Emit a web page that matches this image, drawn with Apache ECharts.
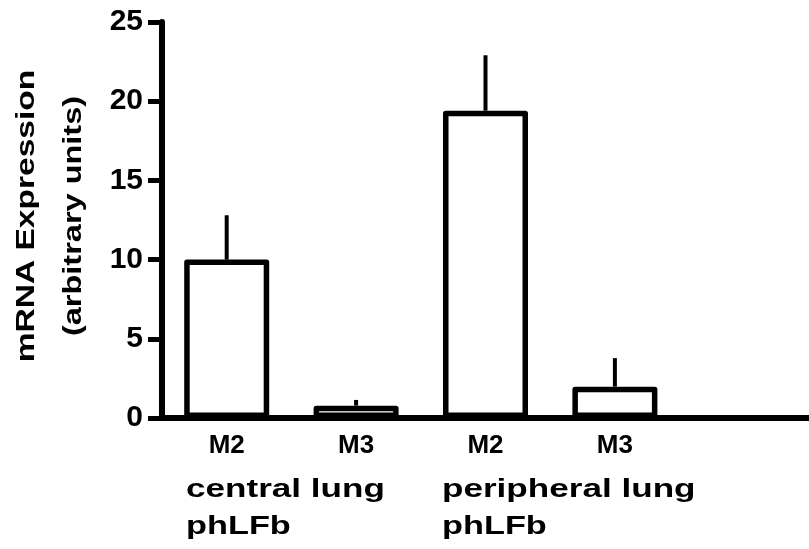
<!DOCTYPE html>
<html>
<head>
<meta charset="utf-8">
<script src="https://cdn.jsdelivr.net/npm/echarts@6/dist/echarts.min.js"></script>
<style>
  html, body { margin: 0; padding: 0; background: #ffffff; }
  #chart { width: 809px; height: 549px; }
</style>
</head>
<body>
<div id="chart"></div>
<script>
// Bar categories (the last slot is left empty so the baseline runs on to the right)
const categories = ['M2', 'M3', 'M2', 'M3', ''];
// Mean expression per bar and its standard error (upper whisker only)
const meanValues = [10.0, 0.78, 19.4, 1.98];
const semValues = [2.8, 0.36, 3.5, 1.8];
// Value axis range and step
const yMin = 0;
const yMax = 25;
const yStep = 5;
// Group captions under the bar pairs
const groupNames = ['central lung', 'peripheral lung'];
const groupSubtitle = 'phLFb';
// Value axis title, two lines
const yTitleLines = ['mRNA Expression', '(arbitrary units)'];

const FONT = '"Liberation Sans", Arial, Helvetica, sans-serif';
const chart = echarts.init(document.getElementById('chart'), null, { renderer: 'canvas' });

// Whisker segments: [category index, mean, mean + sem]
const whiskers = meanValues.map((m, i) => [i, m, m + semValues[i]]);

// Wide-set caption text; horizontal captions anchor at their left end
function caption(text, x, y, scaleX, rotation) {
  return {
    type: 'text',
    x: x,
    y: y,
    scaleX: scaleX,
    rotation: rotation || 0,
    silent: true,
    style: {
      text: text,
      fill: '#000000',
      font: 'bold 26px ' + FONT,
      align: rotation ? 'center' : 'left',
      textAlign: rotation ? 'center' : 'left',
      verticalAlign: 'middle',
      textVerticalAlign: 'middle'
    }
  };
}

const groupLeft = [186, 442];
const graphics = [];
groupNames.forEach((name, g) => {
  graphics.push(caption(name, groupLeft[g], 490, 1.35));
  graphics.push(caption(groupSubtitle, groupLeft[g], 527, 1.32));
});
graphics.push(caption(yTitleLines[0], 27, 216, 1.29, Math.PI / 2));
graphics.push(caption(yTitleLines[1], 74, 216, 1.25, Math.PI / 2));

chart.setOption({
  animation: false,
  backgroundColor: '#ffffff',
  grid: { left: 162, top: 22, width: 650, height: 396, containLabel: false },
  xAxis: {
    type: 'category',
    data: categories,
    boundaryGap: true,
    axisLine: { show: true, lineStyle: { color: '#000000', width: 6 } },
    axisTick: { show: false },
    axisLabel: {
      show: true,
      color: '#000000',
      fontFamily: FONT,
      fontWeight: 'bold',
      fontSize: 26,
      margin: 15
    },
    splitLine: { show: false }
  },
  yAxis: {
    type: 'value',
    min: yMin,
    max: yMax,
    interval: yStep,
    axisLine: { show: true, lineStyle: { color: '#000000', width: 6 } },
    axisTick: { show: true, inside: false, length: 14, lineStyle: { color: '#000000', width: 5 } },
    axisLabel: {
      show: true,
      color: '#000000',
      fontFamily: FONT,
      fontWeight: 'bold',
      fontSize: 30,
      margin: 19
    },
    splitLine: { show: false }
  },
  graphic: graphics,
  series: [
    {
      type: 'bar',
      data: meanValues,
      barWidth: 85,
      itemStyle: { color: '#ffffff', borderColor: '#000000', borderWidth: 5.5, borderJoin: 'round' },
      z: 2
    },
    {
      type: 'custom',
      data: whiskers,
      z: 3,
      renderItem: function (params, api) {
        const base = api.coord([api.value(0), api.value(1)]);
        const top = api.coord([api.value(0), api.value(2)]);
        return {
          type: 'line',
          shape: { x1: base[0], y1: base[1], x2: top[0], y2: top[1] },
          style: { stroke: '#000000', lineWidth: 4 }
        };
      }
    }
  ]
});
</script>
</body>
</html>
